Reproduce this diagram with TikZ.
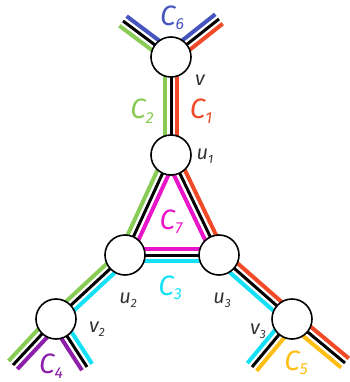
\documentclass[tikz,border=0pt]{standalone}
\usepackage{fontspec}
\setsansfont{Fira Sans}
\usetikzlibrary{calc,backgrounds}
\definecolor{cycred}{RGB}{240,74,40}
\definecolor{cycgreen}{RGB}{136,204,85}
\definecolor{cycblue}{RGB}{70,85,190}
\definecolor{cycmag}{RGB}{232,22,200}
\definecolor{cyccyan}{RGB}{20,225,245}
\definecolor{cycpurple}{RGB}{140,30,170}
\definecolor{cycorange}{RGB}{255,190,20}
\newcommand{\cname}[1]{C\raisebox{-0.3ex}{\fontsize{16}{16}\selectfont #1}}
\newcommand{\vname}[2]{#1\raisebox{-0.4ex}{\fontsize{12}{12}\selectfont #2}}
\begin{document}
\begin{tikzpicture}[x=1pt,y=-1pt, line cap=butt,
	vert/.style={circle,draw,line width=1.6pt,fill=white,minimum size=40pt,inner sep=0pt},
	cline/.style={line width=4pt},
	bline/.style={line width=3pt,black},
	clab/.style={font=\sffamily\itshape\fontsize{28}{28}\selectfont},
	vlab/.style={font=\sffamily\itshape\fontsize{20}{20}\selectfont,text=black!80}]
		\useasboundingbox (0,0) rectangle (349,382);
		% vertices
		\node[vert] (v) at (171,57) {};
		\node[vert] (u1) at (171,155) {};
		\node[vert] (u2) at (125,255) {};
		\node[vert] (u3) at (219,255) {};
		\node[vert] (v2) at (56,319) {};
		\node[vert] (v3) at (292,319) {};
		% free ends
		\coordinate (s1) at (123,21);
		\coordinate (s2) at (219,19);
		\coordinate (s3) at (13,365);
		\coordinate (s4) at (87,367);
		\coordinate (s5) at (252,367);
		\coordinate (s6) at (345,363);
		% edge bundles
		\begin{scope}[on background layer]
			\foreach \a/\b/\ca/\cb in {v/u1/cycred/cycgreen, u1/u2/cycmag/cycgreen,
				u1/u3/cycred/cycmag, u2/u3/cycmag/cyccyan, u2/v2/cyccyan/cycgreen,
				u3/v3/cycred/cyccyan, v/s1/cycgreen/cycblue, v/s2/cycblue/cycred,
				v2/s3/cycpurple/cycgreen, v2/s4/cyccyan/cycpurple,
				v3/s5/cycorange/cyccyan, v3/s6/cycred/cycorange}{
				\draw[cline,\ca] ($(\a.center)!6pt!90:(\b.center)$) -- ($(\b.center)!6pt!-90:(\a.center)$);
				\draw[cline,\cb] ($(\a.center)!6pt!-90:(\b.center)$) -- ($(\b.center)!6pt!90:(\a.center)$);
				\draw[bline] (\a.center) -- (\b.center);
			}
		\end{scope}
		% labels
		\node[clab,text=cycblue] (l6) at (172,18) {\cname{6}};
		\node[clab,text=cycgreen] (l2) at (142,111) {\cname{2}};
		\node[clab,text=cycred] (l1) at (201,111) {\cname{1}};
		\node[clab,text=cycmag] (l7) at (171,222) {\cname{7}};
		\node[clab,text=cyccyan] (l3) at (170,288) {\cname{3}};
		\node[clab,text=cycpurple] (l4) at (51,366) {\cname{4}};
		\node[clab,text=cycorange] (l5) at (296,363) {\cname{5}};
		\node[vlab] (lv) at (200,80) {v};
		\node[vlab] (lu1) at (205,156) {\vname{u}{1}};
		\node[vlab] (lu2) at (128,300) {\vname{u}{2}};
		\node[vlab] (lu3) at (222,300) {\vname{u}{3}};
		\node[vlab] (lv2) at (97,329) {\vname{v}{2}};
		\node[vlab] (lv3) at (258,331) {\vname{v}{3}};
\end{tikzpicture}
\end{document}
